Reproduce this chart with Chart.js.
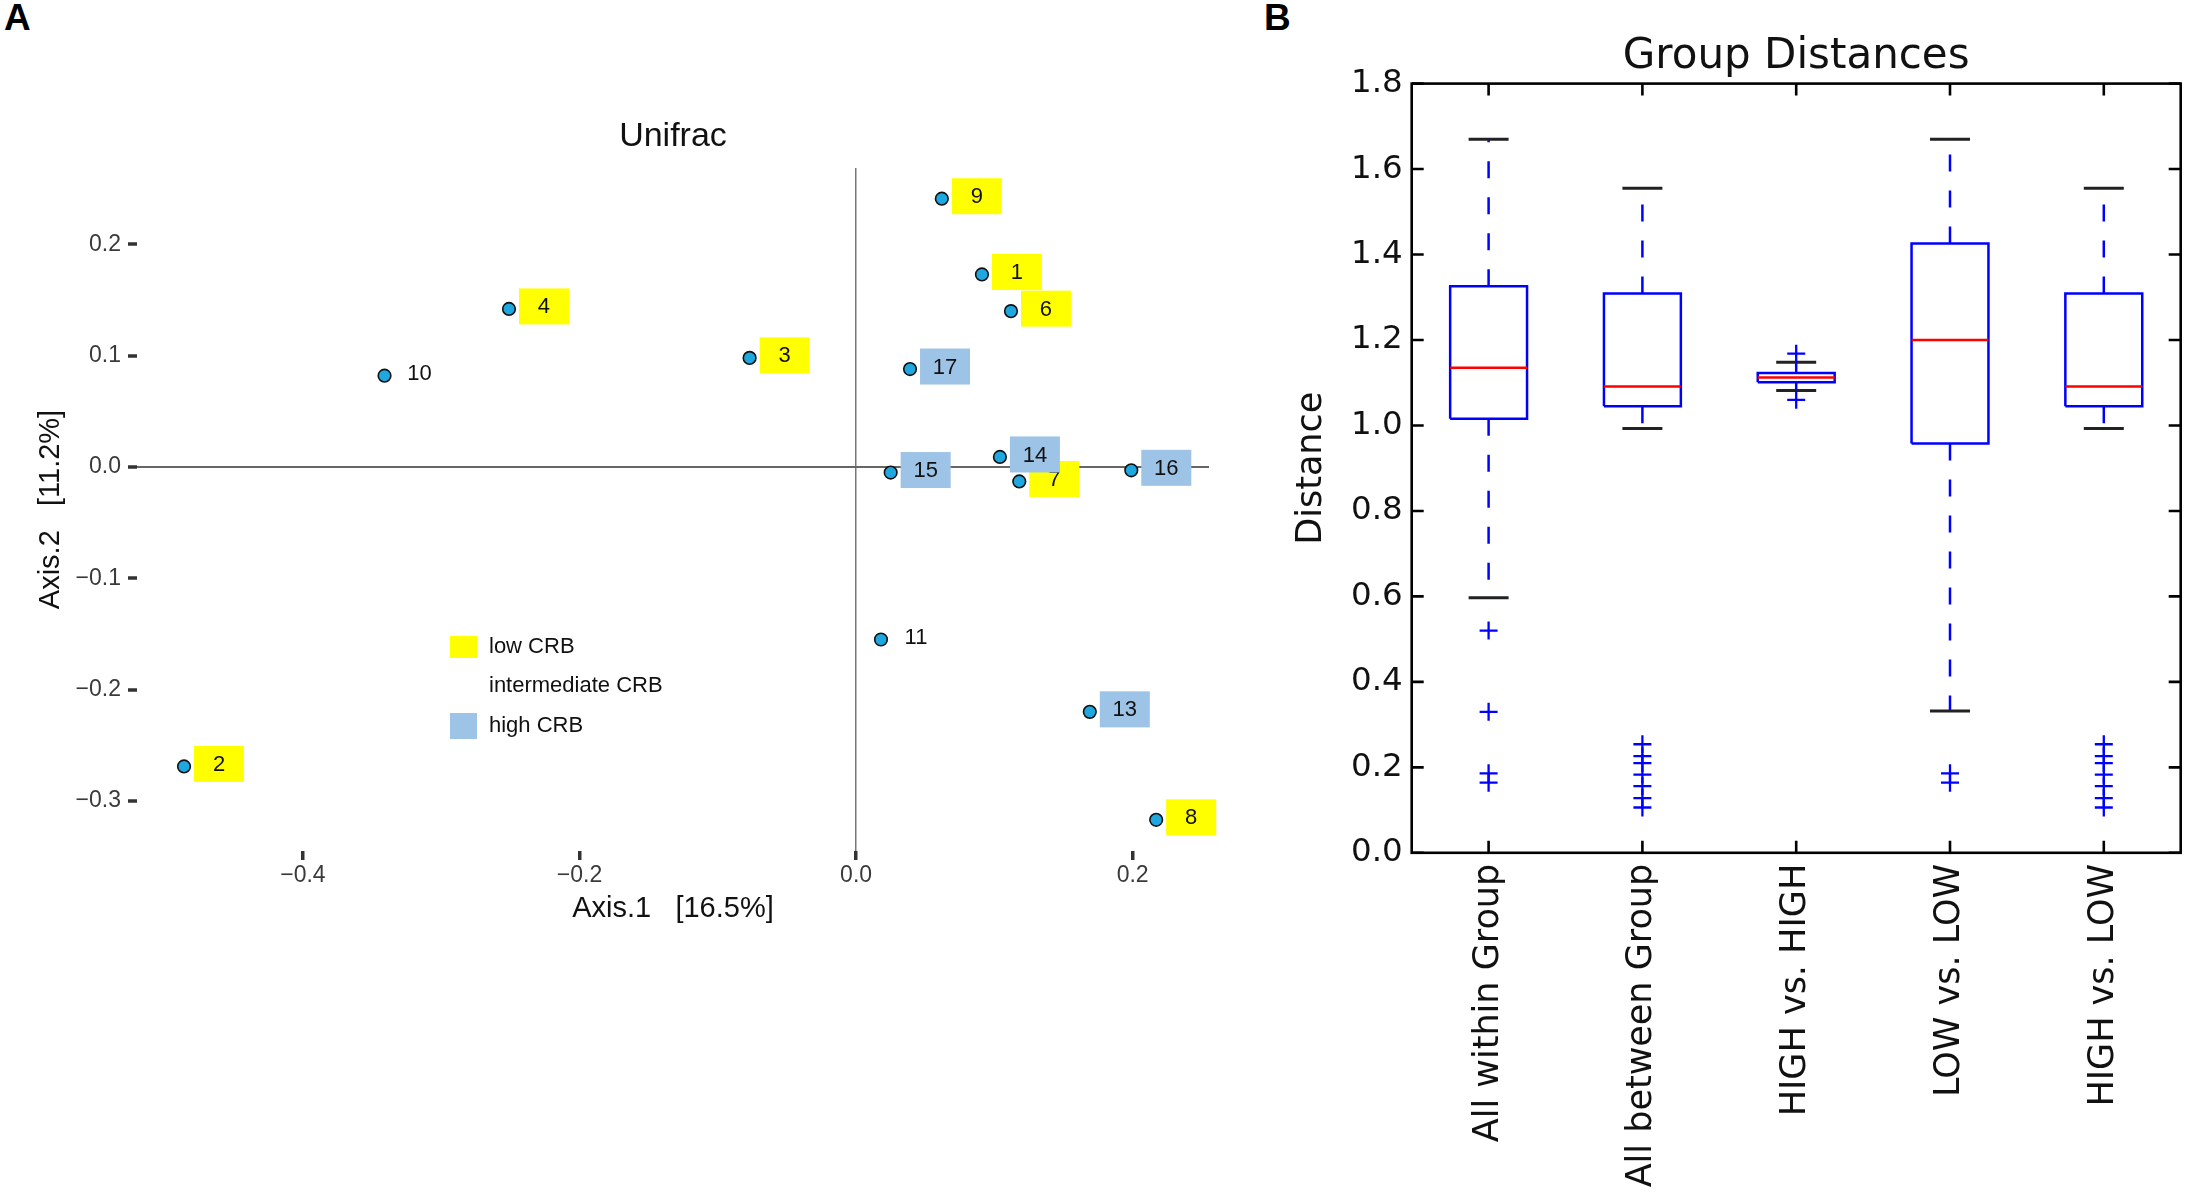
<!DOCTYPE html>
<html>
<head>
<meta charset="utf-8">
<script src="https://cdn.jsdelivr.net/npm/chart.js@4.4.0/dist/chart.umd.min.js"></script>
<style>
html,body{margin:0;padding:0;background:#fff;width:2192px;height:1199px;overflow:hidden;}
#wrapA{position:absolute;left:0;top:0;width:1250px;height:940px;}
#wrapB{position:absolute;left:1250px;top:0;width:942px;height:1199px;}
.panel{position:absolute;font-family:"Liberation Sans",Arial,sans-serif;font-weight:bold;font-size:37px;line-height:1;color:#000;}
</style>
</head>
<body>
<div class="panel" style="left:4px;top:-1px">A</div>
<div class="panel" style="left:1264px;top:-1px">B</div>
<div id="wrapA"><canvas id="chartA"></canvas></div>
<div id="wrapB"><canvas id="chartB"></canvas></div>
<script>
// ---------- Panel A data (PCoA, Unifrac) ----------
const sampleIds = ['1','2','3','4','6','7','8','9','10','11','13','14','15','16','17'];
const axis1 = [0.091,-0.486,-0.077,-0.251,0.112,0.118,0.217,0.062,-0.341,0.018,0.169,0.104,0.025,0.199,0.039];
const axis2 = [0.173,-0.269,0.098,0.142,0.140,-0.013,-0.317,0.241,0.082,-0.155,-0.220,0.009,-0.005,-0.003,0.088];
const crbGroup = ['low','low','low','low','low','low','low','low','intermediate','intermediate','high','high','high','high','high'];
const xTicksA = [-0.4,-0.2,0,0.2];
const xTickLabelsA = ['\u22120.4','\u22120.2','0.0','0.2'];
const yTicksA = [-0.3,-0.2,-0.1,0,0.1,0.2];
const yTickLabelsA = ['\u22120.3','\u22120.2','\u22120.1','0.0','0.1','0.2'];
const legendLabelsA = ['low CRB','intermediate CRB','high CRB'];
const legendGroupsA = ['low','intermediate','high'];

// ---------- Panel B data (Group distances boxplot) ----------
const categories = ['All within Group','All between Group','HIGH vs. HIGH','LOW vs. LOW','HIGH vs. LOW'];
const whiskerLow  = [0.597, 0.993, 1.082, 0.332, 0.993];
const q1          = [1.016, 1.045, 1.101, 0.958, 1.045];
const median      = [1.135, 1.091, 1.112, 1.200, 1.091];
const q3          = [1.326, 1.309, 1.123, 1.426, 1.309];
const whiskerHigh = [1.670, 1.555, 1.148, 1.670, 1.555];
const outliers = [
  [0.520, 0.330, 0.186, 0.164],
  [0.254, 0.226, 0.210, 0.183, 0.156, 0.128, 0.106],
  [1.168, 1.060],
  [0.186, 0.164],
  [0.254, 0.226, 0.210, 0.183, 0.156, 0.128, 0.106]
];
const yTicksB = [0,0.2,0.4,0.6,0.8,1.0,1.2,1.4,1.6,1.8];
const yTickLabelsB = ['0.0','0.2','0.4','0.6','0.8','1.0','1.2','1.4','1.6','1.8'];

// ---------- styles ----------
const FA = '"Liberation Sans", Arial, sans-serif';
const FB = '"DejaVu Sans", sans-serif';
const groupFill = {low:'#FFFF00', intermediate:null, high:'#9DC3E6'};

// ---------- Panel A ----------
const labelPlugin = {
  id:'sampleLabels',
  afterDatasetsDraw(chart){
    const {ctx, scales:{x, y}} = chart;
    ctx.save();
    ctx.font = '22px ' + FA;
    ctx.textAlign = 'center';
    ctx.textBaseline = 'middle';
    sampleIds.forEach((id, i) => {
      const px = x.getPixelForValue(axis1[i]);
      const py = y.getPixelForValue(axis2[i]);
      const fill = groupFill[crbGroup[i]];
      if (fill) { ctx.fillStyle = fill; ctx.fillRect(px + 10, py - 20.5, 50, 36); }
      ctx.fillStyle = '#111';
      ctx.fillText(id, px + 35, py - 1.5);
    });
    ctx.restore();
  }
};
const legendPlugin = {
  id:'crbLegend',
  afterDraw(chart){
    const ctx = chart.ctx;
    const rowY = [647, 686, 726];
    const keyH = [22, 0, 26];
    ctx.save();
    ctx.font = '22px ' + FA;
    ctx.textAlign = 'left';
    ctx.textBaseline = 'middle';
    legendLabelsA.forEach((t, i) => {
      const fill = groupFill[legendGroupsA[i]];
      if (fill) { ctx.fillStyle = fill; ctx.fillRect(450, rowY[i] - keyH[i] / 2, 27, keyH[i]); }
      ctx.fillStyle = '#111';
      ctx.fillText(t, 489, rowY[i]);
    });
    ctx.restore();
  }
};

new Chart(document.getElementById('chartA'), {
  type: 'scatter',
  data: { datasets: [{
    data: axis1.map((v, i) => ({x: v, y: axis2[i]})),
    pointRadius: 6.3, pointHoverRadius: 6.3,
    backgroundColor: '#1FA7E0', borderColor: '#111', borderWidth: 1.6
  }]},
  options: {
    responsive: true, maintainAspectRatio: false, animation: false,
    layout: { padding: { left: 0, right: 41, top: 0, bottom: 14 } },
    plugins: {
      legend: { display: false },
      tooltip: { enabled: false },
      title: { display: true, text: 'Unifrac', fullSize: false, color: '#111',
               font: { family: FA, size: 34, weight: 'normal', lineHeight: 1.2 },
               padding: { top: 116.6, bottom: 10.6 } }
    },
    scales: {
      x: {
        type: 'linear', min: -0.52, max: 0.2552, bounds: 'data',
        afterBuildTicks: s => { s.ticks = xTicksA.map(v => ({value: v})); },
        afterFit: s => { s.height = 75; },
        ticks: { callback: (v, i) => xTickLabelsA[i], autoSkip: false, maxRotation: 0,
                 color: '#3a3a3a', padding: 1.5, font: { family: FA, size: 23 } },
        grid: { drawOnChartArea: true, drawTicks: true, tickLength: 9,
                color: c => (c.tick && c.tick.value === 0) ? '#777' : 'rgba(0,0,0,0)',
                lineWidth: 1.5, tickColor: '#333', tickWidth: 3.5 },
        border: { display: false },
        title: { display: true, text: 'Axis.1   [16.5%]', color: '#111',
                 font: { family: FA, size: 29, lineHeight: 1.2 }, padding: { top: 0, bottom: 0 } }
      },
      y: {
        type: 'linear', min: -0.345, max: 0.2686, bounds: 'data',
        afterBuildTicks: s => { s.ticks = yTicksA.map(v => ({value: v})); },
        afterFit: s => { s.width = 137; },
        ticks: { callback: (v, i) => yTickLabelsA[i], autoSkip: false,
                 color: '#3a3a3a', padding: 7, font: { family: FA, size: 23 } },
        grid: { drawOnChartArea: true, drawTicks: true, tickLength: 9,
                color: c => (c.tick && c.tick.value === 0) ? '#666' : 'rgba(0,0,0,0)',
                lineWidth: 2, tickColor: '#333', tickWidth: 3.5 },
        border: { display: false },
        title: { display: true, text: 'Axis.2   [11.2%]', color: '#111',
                 font: { family: FA, size: 29, lineHeight: 1.2 }, padding: { top: 34, bottom: 0 } }
      }
    }
  },
  plugins: [labelPlugin, legendPlugin]
});

// ---------- Panel B ----------
const boxHalf = 0.25, capHalf = 0.13;
const gapPt = p => ({x: p, y: null});
const boxPts = [], medPts = [], whiskPts = [], capPts = [], outPts = [];
categories.forEach((c, i) => {
  const p = i + 1;
  boxPts.push({x: p - boxHalf, y: q1[i]}, {x: p + boxHalf, y: q1[i]}, {x: p + boxHalf, y: q3[i]},
              {x: p - boxHalf, y: q3[i]}, {x: p - boxHalf, y: q1[i]}, gapPt(p));
  medPts.push({x: p - boxHalf, y: median[i]}, {x: p + boxHalf, y: median[i]}, gapPt(p));
  whiskPts.push({x: p, y: q3[i]}, {x: p, y: whiskerHigh[i]}, gapPt(p),
                {x: p, y: q1[i]}, {x: p, y: whiskerLow[i]}, gapPt(p));
  capPts.push({x: p - capHalf, y: whiskerHigh[i]}, {x: p + capHalf, y: whiskerHigh[i]}, gapPt(p),
              {x: p - capHalf, y: whiskerLow[i]}, {x: p + capHalf, y: whiskerLow[i]}, gapPt(p));
  outliers[i].forEach(v => outPts.push({x: p, y: v}));
});

const framePlugin = {
  id: 'frame',
  afterDatasetsDraw(chart){
    const {ctx, chartArea: {left, right, top, bottom}, scales: {x, y}} = chart;
    ctx.save();
    ctx.strokeStyle = '#000';
    ctx.lineWidth = 2.6;
    ctx.strokeRect(left, top, right - left, bottom - top);
    const L = 12;
    ctx.beginPath();
    yTicksB.forEach(v => {
      const py = y.getPixelForValue(v);
      ctx.moveTo(left, py); ctx.lineTo(left + L, py);
      ctx.moveTo(right, py); ctx.lineTo(right - L, py);
    });
    categories.forEach((c, i) => {
      const px = x.getPixelForValue(i + 1);
      ctx.moveTo(px, top); ctx.lineTo(px, top + L);
      ctx.moveTo(px, bottom); ctx.lineTo(px, bottom - L);
    });
    ctx.stroke();
    ctx.restore();
  }
};

const lineDs = (data, color, extra) => Object.assign({
  data, borderColor: color, borderWidth: 2.5, pointRadius: 0, pointHoverRadius: 0,
  fill: false, tension: 0, spanGaps: false, borderJoinStyle: 'miter', borderCapStyle: 'butt'
}, extra || {});

new Chart(document.getElementById('chartB'), {
  type: 'line',
  data: { datasets: [
    { data: outPts, showLine: false, pointStyle: 'cross', pointRadius: 9, pointHoverRadius: 9,
      pointBorderColor: '#0000FF', pointBorderWidth: 2.3, borderColor: '#0000FF', backgroundColor: '#0000FF' },
    lineDs(medPts, '#FF0000'),
    lineDs(capPts, '#222222', { borderWidth: 3 }),
    lineDs(boxPts, '#0000FF'),
    lineDs(whiskPts, '#0000FF', { borderDash: [17, 19] })
  ]},
  options: {
    responsive: true, maintainAspectRatio: false, animation: false,
    layout: { padding: { left: 0, right: 6, top: 0, bottom: 0 } },
    plugins: {
      legend: { display: false },
      tooltip: { enabled: false },
      title: { display: true, text: 'Group Distances', fullSize: false, color: '#111',
               font: { family: FB, size: 42, weight: 'normal', lineHeight: 1.2 },
               padding: { top: 32, bottom: 1.2 } }
    },
    scales: {
      x: {
        type: 'linear', min: 0.5, max: 5.5, bounds: 'data',
        afterBuildTicks: s => { s.ticks = categories.map((c, i) => ({value: i + 1})); },
        afterFit: s => { s.height = 346.2; },
        ticks: { callback: (v, i) => categories[i], autoSkip: false, maxRotation: 90, minRotation: 90,
                 padding: 11, color: '#111', font: { family: FB, size: 35 } },
        grid: { display: false, drawTicks: false, tickLength: 0 },
        border: { display: false }
      },
      y: {
        type: 'linear', min: 0, max: 1.8, bounds: 'data',
        afterBuildTicks: s => { s.ticks = yTicksB.map(v => ({value: v})); },
        afterFit: s => { s.width = 161.7; },
        ticks: { callback: (v, i) => yTickLabelsB[i], autoSkip: false,
                 padding: 9, color: '#111', font: { family: FB, size: 32.5 } },
        grid: { display: false, drawTicks: false, tickLength: 0 },
        border: { display: false },
        title: { display: true, text: 'Distance', color: '#111',
                 font: { family: FB, size: 35, lineHeight: 1.2 }, padding: { top: 40.6, bottom: 0 } }
      }
    }
  },
  plugins: [framePlugin]
});
</script>
</body>
</html>
